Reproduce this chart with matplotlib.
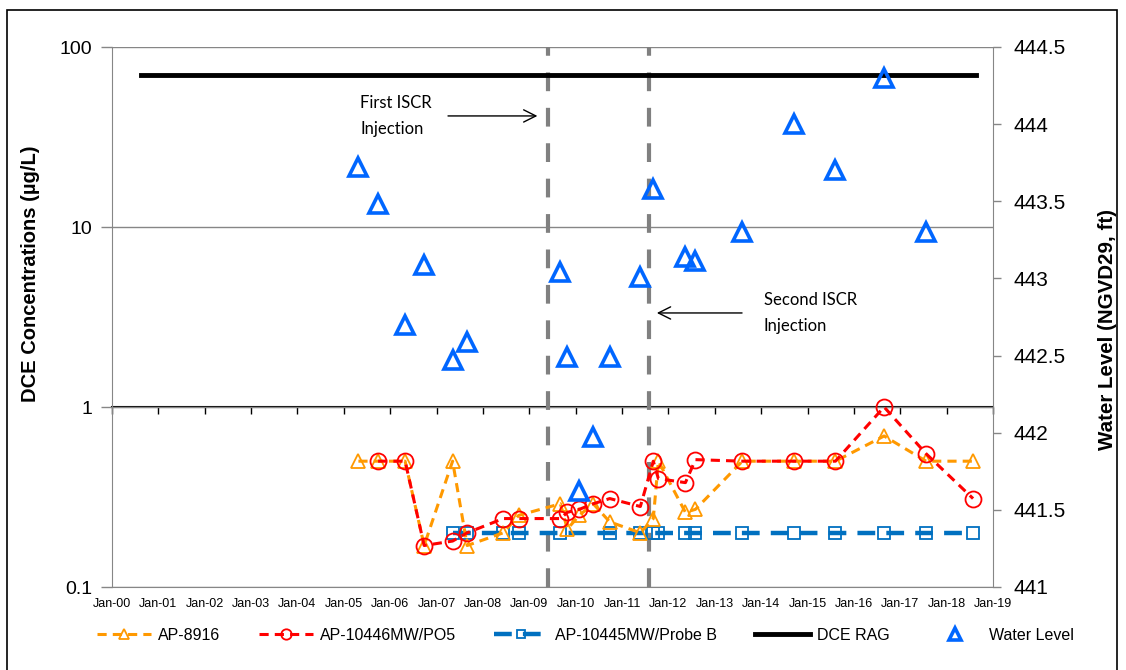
import numpy as np
import pandas as pd
import matplotlib
matplotlib.use('Agg')
import matplotlib.pyplot as plt
import matplotlib.dates as mdates
from matplotlib.patches import Rectangle
from matplotlib.ticker import FixedLocator, FixedFormatter, NullLocator

plt.rcParams['font.family'] = ['Liberation Sans', 'DejaVu Sans']

# --- data ---
ap8916_dates = ['2005-04-25', '2005-09-27', '2006-04-28', '2006-09-25', '2007-05-07', '2007-08-30',
                '2008-06-09', '2008-10-09', '2009-09-02', '2009-10-27', '2010-01-29', '2010-05-19',
                '2010-09-26', '2011-05-25', '2011-09-04', '2011-10-14', '2012-05-14', '2012-08-01',
                '2013-08-06', '2014-09-20', '2015-08-09', '2016-08-26', '2017-07-23', '2018-07-28']
ap8916_conc = [0.5, 0.5, 0.5, 0.17, 0.5, 0.17, 0.2, 0.25, 0.29, 0.21, 0.25, 0.29,
               0.23, 0.2, 0.24, 0.5, 0.26, 0.27, 0.5, 0.5, 0.5, 0.69, 0.5, 0.5]

po5_dates = ['2005-09-27', '2006-04-28', '2006-09-25', '2007-05-07', '2007-08-30',
             '2008-06-09', '2008-10-09', '2009-09-02', '2009-10-27', '2010-01-29', '2010-05-19',
             '2010-09-26', '2011-05-25', '2011-09-04', '2011-10-14', '2012-05-14', '2012-08-01',
             '2013-08-06', '2014-09-20', '2015-08-09', '2016-08-26', '2017-07-23', '2018-07-28']
po5_conc = [0.5, 0.5, 0.17, 0.18, 0.2, 0.24, 0.24, 0.24, 0.26, 0.27, 0.29,
            0.31, 0.28, 0.5, 0.4, 0.38, 0.51, 0.5, 0.5, 0.5, 1.0, 0.55, 0.31]

probe_b_dates = ['2007-05-07', '2007-08-30', '2008-06-09', '2008-10-09', '2009-09-02', '2010-09-26',
                 '2011-05-25', '2011-09-04', '2011-10-14', '2012-05-14', '2012-08-01', '2013-08-06',
                 '2014-09-20', '2015-08-09', '2016-08-26', '2017-07-23', '2018-07-28']
probe_b_conc = [0.2, 0.2, 0.2, 0.2, 0.2, 0.2, 0.2, 0.2, 0.2, 0.2, 0.2, 0.2, 0.2, 0.2, 0.2, 0.2, 0.2]

wl_dates = ['2005-04-25', '2005-09-27', '2006-04-28', '2006-09-25', '2007-05-07', '2007-08-30',
            '2009-09-02', '2009-10-27', '2010-01-29', '2010-05-19', '2010-09-26', '2011-05-25',
            '2011-09-04', '2012-05-14', '2012-08-01', '2013-08-06', '2014-09-20', '2015-08-09',
            '2016-08-26', '2017-07-23']
wl_values = [443.72, 443.48, 442.70, 443.09, 442.47, 442.59, 443.04, 442.49, 441.62, 441.97,
             442.49, 443.01, 443.58, 443.14, 443.11, 443.30, 444.00, 443.70, 444.30, 443.30]

rag_dates = ['2000-08-20', '2018-08-20']
rag_values = [70, 70]

injection_dates = ['2009-05-30', '2011-08-03']
conc_ticks = [0.1, 1, 10, 100]
wl_ticks = [441, 441.5, 442, 442.5, 443, 443.5, 444, 444.5]

to_dt = pd.to_datetime

fig = plt.figure(figsize=(11.26, 6.70), dpi=100)
ax = fig.add_axes([112 / 1126, 1 - 587 / 670, 881 / 1126, 540 / 670])
ax2 = ax.twinx()

# concentration series
l1, = ax.plot(to_dt(ap8916_dates), ap8916_conc, color='#FF9900', ls=(0, (3, 2)), lw=2.2,
              marker='^', ms=10, mfc='none', mew=1.3, label='AP-8916', zorder=4)
l2, = ax.plot(to_dt(po5_dates), po5_conc, color='#FF0000', ls=(0, (3, 2)), lw=2.2,
              marker='o', ms=11.5, mfc='none', mew=1.3, label='AP-10446MW/PO5', zorder=5)
l3, = ax.plot(to_dt(probe_b_dates), probe_b_conc, color='#0070C0', ls=(0, (4, 2.5)), lw=3.2,
              marker='s', ms=8.5, mfc='none', mew=1.3, label='AP-10445MW/Probe B', zorder=3)
l4, = ax.plot(to_dt(rag_dates), rag_values, color='black', lw=3.5, label='DCE RAG', zorder=3)

for d in injection_dates:
    ax.axvline(to_dt(d), color='#808080', lw=3, ls=(0, (4.5, 4)), zorder=2)

ax.set_yscale('log')
ax.set_ylim(0.1, 100)
ax.set_xlim(to_dt('2000-01-01'), to_dt('2019-01-01'))
ax.yaxis.set_major_locator(FixedLocator(conc_ticks))
ax.yaxis.set_major_formatter(FixedFormatter(['0.1', '1', '10', '100']))
ax.yaxis.set_minor_locator(NullLocator())
ax.tick_params(axis='y', direction='out', length=8, width=1, color='#868686', labelsize=14, pad=6)
ax.set_ylabel('DCE Concentrations (µg/L)', fontsize=14.5, fontweight='bold', va='center')
ax.yaxis.set_label_coords(-0.093, 0.58)

ax.xaxis.set_major_locator(mdates.YearLocator())
ax.xaxis.set_major_formatter(mdates.DateFormatter('%b-%y'))
ax.tick_params(axis='x', length=0, labelsize=9, pad=8)
ax.yaxis.grid(True, color='#868686', lw=1)
for s in ['left', 'bottom']:
    ax.spines[s].set_color('#868686')
ax.spines['top'].set_visible(False)
ax.spines['right'].set_visible(False)

# horizontal axis drawn where concentration = 1
sec = ax.secondary_xaxis(1 / 3)
sec.xaxis.set_major_locator(mdates.YearLocator())
sec.tick_params(axis='x', direction='out', length=5, width=1, labelbottom=False)
sec.spines['bottom'].set_color('black')
sec.spines['bottom'].set_linewidth(1.5)

# water level on right axis
l5, = ax2.plot(to_dt(wl_dates), wl_values, ls='none', marker='^', ms=13, mfc='none',
               mec='#0066FF', mew=2.6, label='Water Level')
ax2.set_ylim(441, 444.5)
ax2.yaxis.set_major_locator(FixedLocator(wl_ticks))
ax2.yaxis.set_major_formatter(FixedFormatter(['%g' % v for v in wl_ticks]))
ax2.tick_params(axis='y', direction='out', length=6, width=1, color='#868686', labelsize=15, pad=9)
ax2.set_ylabel('Water Level (NGVD29, ft)', fontsize=14.8, fontweight='bold', va='center')
ax2.yaxis.set_label_coords(1.1305, 0.477)
for s in ['left', 'top', 'bottom']:
    ax2.spines[s].set_visible(False)
ax2.spines['right'].set_color('#868686')

# injection annotations
ax.annotate('', xy=(to_dt('2009-03-27'), 41.4), xytext=(to_dt('2007-03-10'), 41.4),
            arrowprops=dict(arrowstyle='->', color='black', lw=1, mutation_scale=22))
ax.text(to_dt('2005-05-10'), 41.4, 'First ISCR\nInjection', fontsize=12, family='Lato',
        ha='left', va='center', linespacing=1.75)
ax.annotate('', xy=(to_dt('2011-09-10'), 3.33), xytext=(to_dt('2013-08-25'), 3.33),
            arrowprops=dict(arrowstyle='->', color='black', lw=1, mutation_scale=22))
ax.text(to_dt('2014-01-20'), 3.33, 'Second ISCR\nInjection', fontsize=12, family='Lato',
        ha='left', va='center', linespacing=1.75)

fig.legend(handles=[l1, l2, l3, l4, l5], loc='center left', bbox_to_anchor=(97 / 1126, 0.052),
           ncol=5, frameon=False, fontsize=11.5, handlelength=3.4, columnspacing=2.38,
           handletextpad=0.44, borderpad=0, borderaxespad=0, markerscale=0.65)

# outer chart border
fig.patches.append(Rectangle((7 / 1126, -0.01), 1110 / 1126, 1 - 10 / 670 + 0.01,
                             transform=fig.transFigure, fill=False, ec='black', lw=1.2))

fig.savefig('out.png', dpi=100)
